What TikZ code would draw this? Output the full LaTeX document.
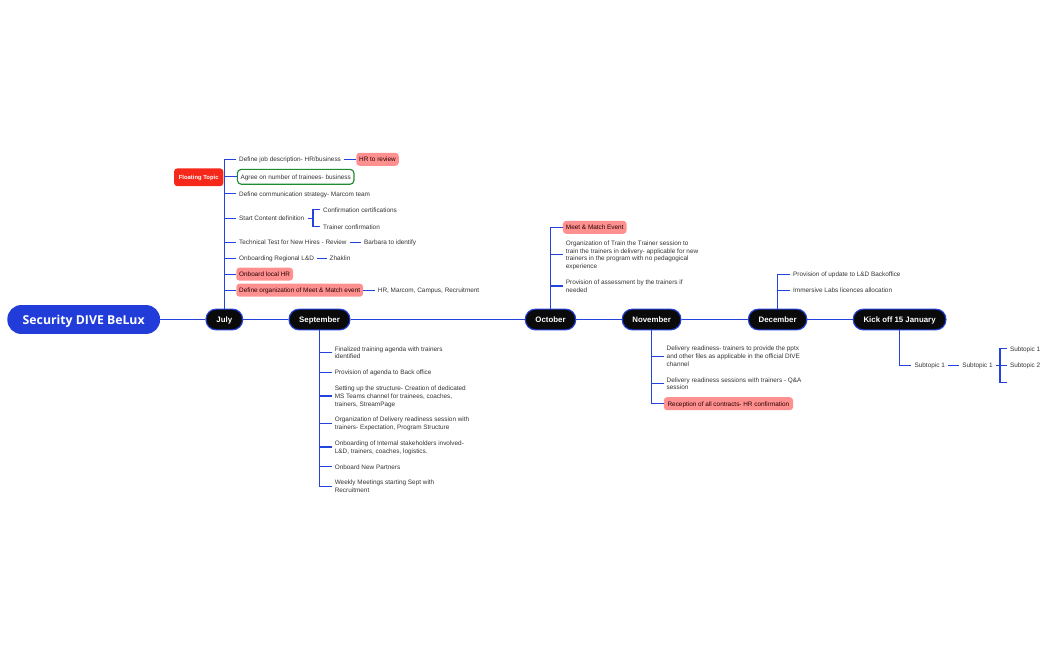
\documentclass[tikz,border=0pt]{standalone}
\usepackage{fontspec}
\setmainfont{Liberation Sans}
\newfontfamily\titlefont{Open Sans}
\definecolor{linkblue}{HTML}{2442DC}
\definecolor{titleblue}{HTML}{213CD9}
\definecolor{monthblack}{HTML}{0A0A0A}
\definecolor{hotpink}{HTML}{FF9090}
\definecolor{flagred}{HTML}{F5281A}
\definecolor{okgreen}{HTML}{1E8A32}
\definecolor{ink}{HTML}{333333}
\begin{document}
\begin{tikzpicture}[x=.75pt,y=-.75pt,
	link/.style={draw=linkblue,line width=.85pt},
	leaf/.style={anchor=west,font=\fontsize{4.8}{5.8}\selectfont,text=ink,align=left,inner xsep=2.2pt,inner ysep=1pt,text depth=0pt},
	hot/.style={leaf,fill=hotpink,rounded corners=2.5pt,text=black!85!red,inner ysep=2.9pt,minimum height=9.8pt},
	month/.style={fill=monthblack,draw=linkblue,line width=.85pt,rounded corners=7.5pt,text=white,
		font=\fontsize{5.9}{7}\selectfont\bfseries,minimum height=15.5pt,inner xsep=0pt,inner ysep=0pt,text height=4.3pt,text depth=0pt},
	]
	\useasboundingbox (0,0) rectangle (1050,650);
	% spine
	\node[fill=titleblue,rounded corners=10.5pt,text=white,font=\titlefont\fontsize{9.2}{11}\selectfont\bfseries,
		minimum width=114.5pt,minimum height=21.7pt,inner sep=0pt,text height=8pt,text depth=0pt] (root) at (83.7,319.5) {Security DIVE BeLux};
	\node[month,minimum width=27.5pt] (july) at (224.3,319.5) {July};
	\node[month,minimum width=45.7pt] (sept) at (319.5,319.5) {September};
	\node[month,minimum width=37.8pt] (oct) at (550.5,319.5) {October};
	\node[month,minimum width=44pt] (nov) at (651.6,319.5) {November};
	\node[month,minimum width=43.8pt] (dec) at (777.6,319.5) {December};
	\node[month,minimum width=69.5pt] (kick) at (899.6,319.5) {Kick off 15 January};
	\foreach \a/\b in {root/july,july/sept,sept/oct,oct/nov,nov/dec,dec/kick}{
		\draw[link] (\a.east)--(\b.west);}
	% july
	\node[leaf] (j1) at (236,159.3) {Define job description- HR/business};
	\node[hot] (j1a) at (356,159.3) {HR to review};
	\node[leaf,draw=okgreen,line width=.85pt,rounded corners=3pt,inner ysep=2.9pt,minimum height=11.2pt,minimum width=87.5pt,text=ink] (j2) at (236.8,176.8) {Agree on number of trainees- business};
	\node[fill=flagred,rounded corners=2.5pt,text=white,font=\fontsize{4.4}{5.8}\selectfont\bfseries,
		minimum width=37pt,minimum height=13.4pt,inner sep=0pt,text depth=0pt] (flag) at (198.7,177.3) {Floating Topic};
	\node[leaf] (j3) at (236,193.7) {Define communication strategy- Marcom team};
	\node[leaf] (j4) at (236,218.3) {Start Content definition};
	\node[leaf] (j4a) at (320,209.7) {Confirmation certifications};
	\node[leaf] (j4b) at (320,226.7) {Trainer confirmation};
	\node[leaf] (j5) at (236,242.3) {Technical Test for New Hires - Review};
	\node[leaf] (j5a) at (361,242.3) {Barbara to identify};
	\node[leaf] (j6) at (236,258.3) {Onboarding Regional L\&D};
	\node[leaf] (j6a) at (326.5,258.3) {Zhaklin};
	\node[hot,minimum width=41.8pt] (j7) at (236,274.2) {Onboard local HR};
	\node[hot,minimum width=95pt] (j8) at (236,290.2) {Define organization of Meet \& Match event};
	\node[leaf] (j8a) at (374.7,290.2) {HR, Marcom, Campus, Recruitment};
	\foreach \i in {j1,j2,j3,j4,j5,j6,j7,j8}{
		\draw[link] (july.north) |- (\i.west);}
	\foreach \a/\b in {j1/j1a,j5/j5a,j6/j6a,j8/j8a}{
		\draw[link] (\a.east)--(\b.west);}
	\foreach \i in {j4a,j4b}{
		\draw[link] (j4.east)-|(313,218.3) |- (\i.west);}
	% september
	\node[leaf] (s1) at (331.6,352.8) {Finalized training agenda with trainers\\identified};
	\node[leaf] (s2) at (331.6,372.3) {Provision of agenda to Back office};
	\node[leaf] (s3) at (331.6,396) {Setting up the structure- Creation of dedicated\\MS Teams channel for trainees, coaches,\\trainers, StreamPage};
	\node[leaf] (s4) at (331.6,423.3) {Organization of Delivery readiness session with\\trainers- Expectation, Program Structure};
	\node[leaf] (s5) at (331.6,447) {Onboarding of Internal stakeholders involved-\\L\&D, trainers, coaches, logistics.};
	\node[leaf] (s6) at (331.6,466.7) {Onboard New Partners};
	\node[leaf] (s7) at (331.6,486.5) {Weekly Meetings starting Sept with\\Recruitment};
	\foreach \i in {s1,s2,s3,s4,s5,s6,s7}{
		\draw[link] (sept.south) |- (\i.west);}
	% october
	\node[hot,minimum width=47.7pt] (o1) at (562.7,227.3) {Meet \& Match Event};
	\node[leaf] (o2) at (562.7,254.8) {Organization of Train the Trainer session to\\train the trainers in delivery- applicable for new\\trainers in the program with no pedagogical\\experience};
	\node[leaf] (o3) at (562.7,286) {Provision of assessment by the trainers if\\needed};
	\foreach \i in {o1,o2,o3}{
		\draw[link] (oct.north) |- (\i.west);}
	% november
	\node[leaf] (n1) at (663.5,356.3) {Delivery readiness- trainers to provide the pptx\\and other files as applicable in the official DIVE\\channel};
	\node[leaf] (n2) at (663.5,383.7) {Delivery readiness sessions with trainers - Q\&A\\session};
	\node[hot,minimum width=97pt] (n3) at (663.5,403.7) {Reception of all contracts- HR confirmation};
	\foreach \i in {n1,n2,n3}{
		\draw[link] (nov.south) |- (\i.west);}
	% december
	\node[leaf] (d1) at (790,274.3) {Provision of update to L\&D Backoffice};
	\node[leaf] (d2) at (790,290.3) {Immersive Labs licences allocation};
	\foreach \i in {d1,d2}{
		\draw[link] (dec.north) |- (\i.west);}
	% kick off
	\node[leaf] (k1) at (911.4,365.3) {Subtopic 1};
	\node[leaf] (k2) at (959.2,365.3) {Subtopic 1};
	\node[leaf] (k3) at (1006.8,348.7) {Subtopic 1};
	\node[leaf] (k4) at (1006.8,365.3) {Subtopic 2};
	\coordinate (k5) at (1006.8,382.3);
	\draw[link] (kick.south) |- (k1.west);
	\draw[link] (k1.east)--(k2.west);
	\draw[link] (k2.east)--(k4.west);
	\draw[link] (k3.west) -| (1000,382.3) -- (k5);
\end{tikzpicture}
\end{document}
